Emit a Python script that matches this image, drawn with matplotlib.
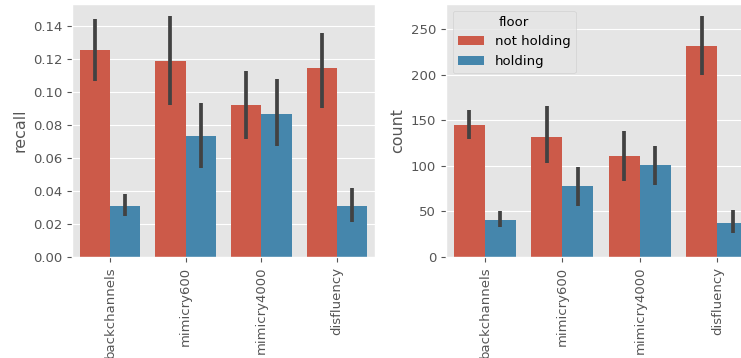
import matplotlib
matplotlib.use("Agg")
import matplotlib.pyplot as plt
import matplotlib.colors as mcolors
import colorsys
import numpy as np

plt.style.use("ggplot")

categories = ["backchannels", "mimicry600", "mimicry4000", "disfluency"]
hues = ["not holding", "holding"]

# recall (left panel): mean, lower ci, upper ci
recall_not = [0.1256, 0.1186, 0.0922, 0.1144]
recall_not_lo = [0.1066, 0.0920, 0.0714, 0.0900]
recall_not_hi = [0.1444, 0.1460, 0.1128, 0.1356]
recall_hold = [0.0310, 0.0736, 0.0868, 0.0310]
recall_hold_lo = [0.0248, 0.0540, 0.0670, 0.0214]
recall_hold_hi = [0.0384, 0.0934, 0.1080, 0.0420]

# count (right panel)
count_not = [145.3, 132.2, 110.5, 231.2]
count_not_lo = [129.3, 103.3, 83.3, 199.6]
count_not_hi = [160.9, 165.9, 138.8, 264.5]
count_hold = [40.9, 77.9, 100.7, 37.7]
count_hold_lo = [32.6, 56.5, 79.3, 26.1]
count_hold_hi = [50.0, 98.6, 122.1, 51.8]


def desat(c, prop=0.75):
    r, g, b = mcolors.to_rgb(c)
    h, l, s = colorsys.rgb_to_hls(r, g, b)
    return colorsys.hls_to_rgb(h, l, s * prop)


colors = [desat("#E24A33"), desat("#348ABD")]

W, H = 741, 358
fig = plt.figure(figsize=(W / 100, H / 100), dpi=100)
ax1 = fig.add_axes([72 / W, 1 - 257 / H, (375 - 72) / W, 253 / H])
ax2 = fig.add_axes([446 / W, 1 - 257 / H, (756 - 446) / W, 253 / H])


def draw(ax, series, ylabel):
    x = np.arange(len(categories))
    w = 0.4
    for i, (vals, lo, hi) in enumerate(series):
        vals = np.array(vals)
        pos = x - w / 2 + i * w
        ax.bar(pos, vals, width=w, color=colors[i], label=hues[i])
        ax.errorbar(pos, vals, yerr=[vals - np.array(lo), np.array(hi) - vals],
                    fmt="none", ecolor=".26", elinewidth=2.7, capsize=0)
    ax.set_xticks(x)
    ax.set_xticklabels(categories, rotation=90)
    ax.set_xlim(-0.5, len(categories) - 0.5)
    ax.xaxis.grid(False)
    ax.set_ylabel(ylabel, fontsize=11.4)
    ax.tick_params(labelsize=9.5)


draw(ax1, [(recall_not, recall_not_lo, recall_not_hi),
           (recall_hold, recall_hold_lo, recall_hold_hi)], "recall")
draw(ax2, [(count_not, count_not_lo, count_not_hi),
           (count_hold, count_hold_lo, count_hold_hi)], "count")
ax1.set_yticks(np.arange(0, 0.141, 0.02))
ax2.set_yticks(np.arange(0, 251, 50))

ax2.legend(title="floor", loc="upper left", fontsize=9.5, title_fontsize=9.5)

fig.savefig("out.png", dpi=100)
